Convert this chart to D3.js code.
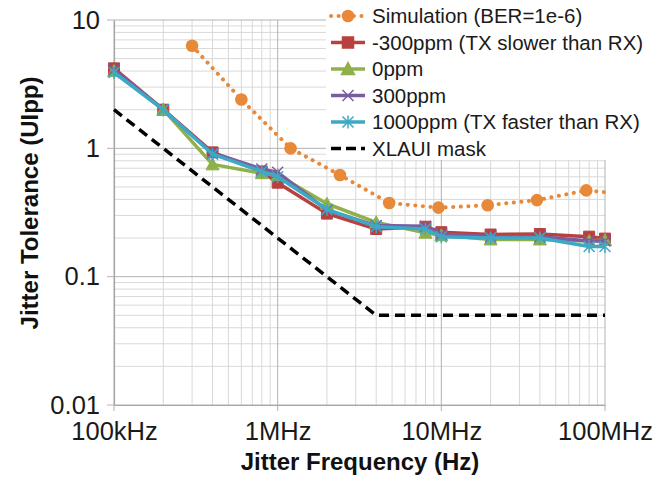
<!DOCTYPE html>
<html><head><meta charset="utf-8">
<script src="https://cdn.jsdelivr.net/npm/d3@7"></script>
<style>
html,body{margin:0;padding:0;background:#fff;}
svg{display:block;font-family:"Liberation Sans",Arial,sans-serif;}
</style></head><body>
<svg id="chart" width="662" height="478"></svg>
<script>
// ---- data ----
const freqs = [1e5, 2e5, 4e5, 8e5, 1e6, 2e6, 4e6, 8e6, 1e7, 2e7, 4e7, 8e7, 1e8];
const ppmNeg300 = [4.2, 2.0, 0.93, 0.66, 0.54, 0.31, 0.235, 0.245, 0.222, 0.213, 0.215, 0.205, 0.198];
const ppm0      = [4.0, 2.0, 0.75, 0.64, 0.62, 0.37, 0.265, 0.22, 0.21, 0.195, 0.195, 0.19, 0.193];
const ppm300    = [4.1, 2.0, 0.92, 0.69, 0.65, 0.33, 0.25, 0.247, 0.215, 0.205, 0.205, 0.19, 0.19];
const ppm1000   = [3.9, 2.0, 0.90, 0.66, 0.60, 0.335, 0.245, 0.235, 0.205, 0.2, 0.2, 0.172, 0.172];
const simFreq = [3e5, 6e5, 1.2e6, 2.4e6, 4.8e6, 9.6e6, 1.92e7, 3.84e7, 7.68e7, 1e8];
const simVal  = [6.3, 2.4, 1.0, 0.62, 0.375, 0.345, 0.36, 0.395, 0.47, 0.455];
const simMarker = [1, 1, 1, 1, 1, 1, 1, 1, 1, 0];
const maskFreq = [1e5, 4e6, 1e8];
const maskVal  = [2, 0.05, 0.05];
const xTickVals = [1e5, 1e6, 1e7, 1e8];
const xTickLabels = ["100kHz", "1MHz", "10MHz", "100MHz"];
const yTickVals = [0.01, 0.1, 1, 10];
const yTickLabels = ["0.01", "0.1", "1", "10"];
const seriesNames = ["Simulation (BER=1e-6)", "-300ppm (TX slower than RX)", "0ppm", "300ppm", "1000ppm (TX faster than RX)", "XLAUI mask"];

// ---- layout ----
const svg = d3.select("#chart");
const L = 114, R = 605, T = 20, B = 405;
const x = d3.scaleLog().domain([1e5, 1e8]).range([L, R]);
const y = d3.scaleLog().domain([0.01, 10]).range([B, T]);

const minorX = [], minorY = [];
for (let d = 1e5; d < 1e8; d *= 10) for (let k = 2; k <= 9; k++) minorX.push(d * k);
for (let d = 0.01; d < 10; d *= 10) for (let k = 2; k <= 9; k++) minorY.push(+(d * k).toPrecision(3));

const g = svg.append("g");
g.selectAll(".mx").data(minorX).join("line")
  .attr("x1", d => x(d)).attr("x2", d => x(d)).attr("y1", T).attr("y2", B)
  .attr("stroke", "#d9d9d9").attr("stroke-width", 1);
g.selectAll(".my").data(minorY).join("line")
  .attr("y1", d => y(d)).attr("y2", d => y(d)).attr("x1", L).attr("x2", R)
  .attr("stroke", "#d9d9d9").attr("stroke-width", 1);
g.selectAll(".Mx").data(xTickVals).join("line")
  .attr("x1", d => x(d)).attr("x2", d => x(d)).attr("y1", T).attr("y2", B + 6)
  .attr("stroke", "#b3b3b3").attr("stroke-width", 1);
g.selectAll(".My").data(yTickVals).join("line")
  .attr("y1", d => y(d)).attr("y2", d => y(d)).attr("x1", L - 7).attr("x2", R)
  .attr("stroke", "#b3b3b3").attr("stroke-width", 1);

const xAxis = d3.axisBottom(x).tickValues(xTickVals).tickSize(0).tickPadding(17)
  .tickFormat((d, i) => xTickLabels[i]);
const yAxis = d3.axisLeft(y).tickValues(yTickVals).tickSize(0).tickPadding(14)
  .tickFormat((d, i) => yTickLabels[i]);
const gx = svg.append("g").attr("transform", `translate(0,${B})`).call(xAxis);
const gy = svg.append("g").attr("transform", `translate(${L},0)`).call(yAxis);
[gx, gy].forEach(a => {
  a.select(".domain").attr("stroke", "#a6a6a6").attr("stroke-width", 1.2);
  a.selectAll("text").attr("font-size", 25.5).attr("fill", "#1a1a1a")
    .attr("font-family", "'Liberation Sans',Arial,sans-serif");
});

svg.append("text").attr("x", 360).attr("y", 470).attr("text-anchor", "middle")
  .attr("font-size", 24).attr("font-weight", "bold").attr("fill", "#111")
  .text("Jitter Frequency (Hz)");
svg.append("text").attr("transform", "translate(38,203) rotate(-90)").attr("text-anchor", "middle")
  .attr("font-size", 24).attr("font-weight", "bold").attr("fill", "#111")
  .text("Jitter Tolerance (UIpp)");

// ---- series ----
const line = d3.line().x(d => x(d[0])).y(d => y(d[1]));
const cOrange = "#E8893A", cRed = "#B8413F", cGreen = "#8FB04A", cPurple = "#7A5CA0", cCyan = "#3EA9C4";

svg.append("path").datum(d3.zip(maskFreq, maskVal)).attr("d", line)
  .attr("fill", "none").attr("stroke", "#000").attr("stroke-width", 3.5)
  .attr("stroke-dasharray", "10 6");

svg.append("path").datum(d3.zip(simFreq, simVal)).attr("d", line)
  .attr("fill", "none").attr("stroke", cOrange).attr("stroke-width", 4)
  .attr("stroke-linecap", "round").attr("stroke-dasharray", "0.1 7.5");
svg.selectAll(".simdot").data(d3.zip(simFreq, simVal, simMarker).filter(d => d[2])).join("circle")
  .attr("cx", d => x(d[0])).attr("cy", d => y(d[1])).attr("r", 6.3).attr("fill", cOrange);

function markerPath(type, cx, cy) {
  const s = 5.5;
  if (type === "square") return `M${cx-s},${cy-s}h${2*s}v${2*s}h${-2*s}Z`;
  if (type === "tri") return `M${cx},${cy-s-1}L${cx+s+1},${cy+s}L${cx-s-1},${cy+s}Z`;
  if (type === "x") return `M${cx-s},${cy-s}L${cx+s},${cy+s}M${cx-s},${cy+s}L${cx+s},${cy-s}`;
  if (type === "star") return `M${cx-s},${cy-s}L${cx+s},${cy+s}M${cx-s},${cy+s}L${cx+s},${cy-s}M${cx},${cy-s-1}L${cx},${cy+s+1}`;
}
const series = [
  {vals: ppmNeg300, color: cRed, marker: "square"},
  {vals: ppm0, color: cGreen, marker: "tri"},
  {vals: ppm300, color: cPurple, marker: "x"},
  {vals: ppm1000, color: cCyan, marker: "star"}
];
series.forEach(s => {
  const pts = d3.zip(freqs, s.vals);
  svg.append("path").datum(pts).attr("d", line).attr("fill", "none")
    .attr("stroke", s.color).attr("stroke-width", 3.5).attr("stroke-linejoin", "round");
  svg.append("g").selectAll("path").data(pts).join("path")
    .attr("d", d => markerPath(s.marker, x(d[0]), y(d[1])))
    .attr("fill", (s.marker === "x" || s.marker === "star") ? "none" : s.color)
    .attr("stroke", s.color).attr("stroke-width", (s.marker === "x" || s.marker === "star") ? 1.5 : 1);
});

// ---- legend ----
const lg = svg.append("g");
lg.append("rect").attr("x", 326).attr("y", 0).attr("width", 336).attr("height", 160).attr("fill", "#fff");
const legendItems = [
  {color: cOrange, marker: "circle", dash: "0.1 7.5", cap: "round"},
  {color: cRed, marker: "square"},
  {color: cGreen, marker: "tri"},
  {color: cPurple, marker: "x"},
  {color: cCyan, marker: "star"},
  {color: "#000", marker: null, dash: "10 5"}
];
legendItems.forEach((it, i) => {
  const cy = 16 + i * 26.5, x0 = 331, x1 = 365, cx = (x0 + x1) / 2;
  lg.append("line").attr("x1", x0).attr("x2", x1).attr("y1", cy).attr("y2", cy)
    .attr("stroke", it.color).attr("stroke-width", it.marker === "circle" ? 4 : 3.5)
    .attr("stroke-dasharray", it.dash || null).attr("stroke-linecap", it.cap || "butt");
  if (it.marker === "circle") lg.append("circle").attr("cx", cx).attr("cy", cy).attr("r", 6.3).attr("fill", it.color);
  else if (it.marker) lg.append("path").attr("d", markerPath(it.marker, cx, cy))
    .attr("fill", (it.marker === "x" || it.marker === "star") ? "none" : it.color)
    .attr("stroke", it.color).attr("stroke-width", 1.5);
  lg.append("text").attr("x", 372).attr("y", cy).attr("dy", "0.35em")
    .attr("font-size", 20.5).attr("fill", "#1a1a1a").text(seriesNames[i]);
});
</script>
</body></html>
